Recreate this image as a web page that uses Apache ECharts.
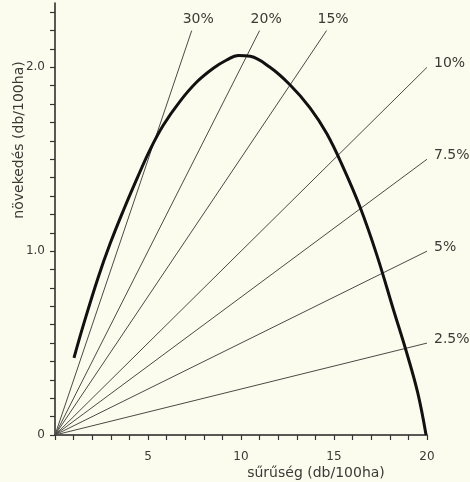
<!DOCTYPE html>
<html>
<head>
<meta charset="utf-8">
<script src="https://cdn.jsdelivr.net/npm/echarts@6/dist/echarts.min.js"></script>
<style>
html,body{margin:0;padding:0;background:#fcfcee;}
#chart{width:470px;height:482px;}
</style>
</head>
<body>
<div id="chart"></div>
<script>
// növekedési görbe: sűrűség (db/100ha) -> növekedés (db/100ha)
var curveX = [1.02, 1.56, 2.33, 2.96, 3.67, 4.43, 5.1, 5.82, 6.72, 7.62, 8.51, 9.23, 9.86, 10.5, 11.56, 12.63, 13.71, 14.61, 15.5, 16.4, 17.3, 18.2, 18.9, 19.5, 19.95];
var curveY = [0.42, 0.61, 0.86, 1.04, 1.22, 1.40, 1.55, 1.685, 1.815, 1.92, 1.995, 2.04, 2.065, 2.06, 2.0, 1.905, 1.78, 1.64, 1.455, 1.24, 0.98, 0.68, 0.45, 0.23, 0.0];

// sugarak az origóból (arány)
var rayNames = ['30%', '20%', '15%', '10%', '7.5%', '5%', '2.5%'];
var rayEndX = [7.35, 11.0, 14.6, 20, 20, 20, 20];
var rayEndY = [2.2, 2.2, 2.2, 2.0, 1.5, 1.0, 0.5];

// tengely feliratok
var xTickLabels = [5, 10, 15, 20];
var yTickLabels = ['0', '1.0', '2.0'];

var textColor = '#3a3a36';
var fontFam = '"DejaVu Sans", sans-serif';

var initChart = function () {
    var chart = echarts.init(document.getElementById('chart'));

    var curveData = [];
    for (var i = 0; i < curveX.length; i++) {
        curveData.push([curveX[i], curveY[i]]);
    }

    var series = [];
    for (var j = 0; j < rayNames.length; j++) {
        var onTop = rayEndX[j] < 20;
        series.push({
            type: 'line',
            name: rayNames[j],
            symbol: 'none',
            silent: true,
            lineStyle: { color: '#4a4a46', width: 1 },
            endLabel: {
                show: true,
                formatter: rayNames[j],
                color: textColor,
                fontFamily: fontFam,
                fontSize: 14,
                offset: onTop ? [-17, -11] : [-1, -4]
            },
            data: [[0, 0], [rayEndX[j], rayEndY[j]]]
        });
    }
    series.push({
        type: 'line',
        name: 'növekedés',
        symbol: 'none',
        smooth: 0.4,
        lineStyle: { color: '#111', width: 3 },
        data: curveData,
        z: 5
    });

    chart.setOption({
        backgroundColor: '#fcfcee',
        animation: false,
        grid: { left: 55, right: 43, top: 3, bottom: 47 },
        xAxis: {
            type: 'value',
            min: 0,
            max: 20,
            interval: 1,
            splitLine: { show: false },
            axisLine: { lineStyle: { color: '#222', width: 1.5 } },
            axisTick: { length: 5, lineStyle: { color: '#333', width: 1.2 } },
            axisLabel: {
                margin: 16,
                color: textColor,
                fontFamily: fontFam,
                fontSize: 12,
                formatter: function (v) {
                    return xTickLabels.indexOf(Math.round(v * 1000) / 1000) >= 0 ? String(v) : '';
                }
            }
        },
        yAxis: {
            type: 'value',
            min: 0,
            max: 2.35,
            interval: 0.1,
            splitLine: { show: false },
            axisLine: { lineStyle: { color: '#222', width: 1.5 } },
            axisTick: { length: 5, lineStyle: { color: '#333', width: 1.2 } },
            axisLabel: {
                margin: 10,
                showMaxLabel: false,
                color: textColor,
                fontFamily: fontFam,
                fontSize: 12,
                formatter: function (v) {
                    var r = Math.round(v * 10) / 10;
                    if (r % 1 !== 0) return '';
                    return yTickLabels[r] || '';
                }
            }
        },
        graphic: [{
            type: 'text',
            x: 19,
            y: 140,
            rotation: Math.PI / 2,
            style: {
                text: 'növekedés (db/100ha)',
                fill: textColor,
                font: '14px "DejaVu Sans", sans-serif',
                align: 'center',
                verticalAlign: 'middle'
            }
        }, {
            type: 'text',
            x: 316,
            y: 473,
            style: {
                text: 'sűrűség (db/100ha)',
                fill: textColor,
                font: '14px "DejaVu Sans", sans-serif',
                align: 'center',
                verticalAlign: 'middle'
            }
        }],
        series: series
    });
};

initChart();
</script>
</body>
</html>
